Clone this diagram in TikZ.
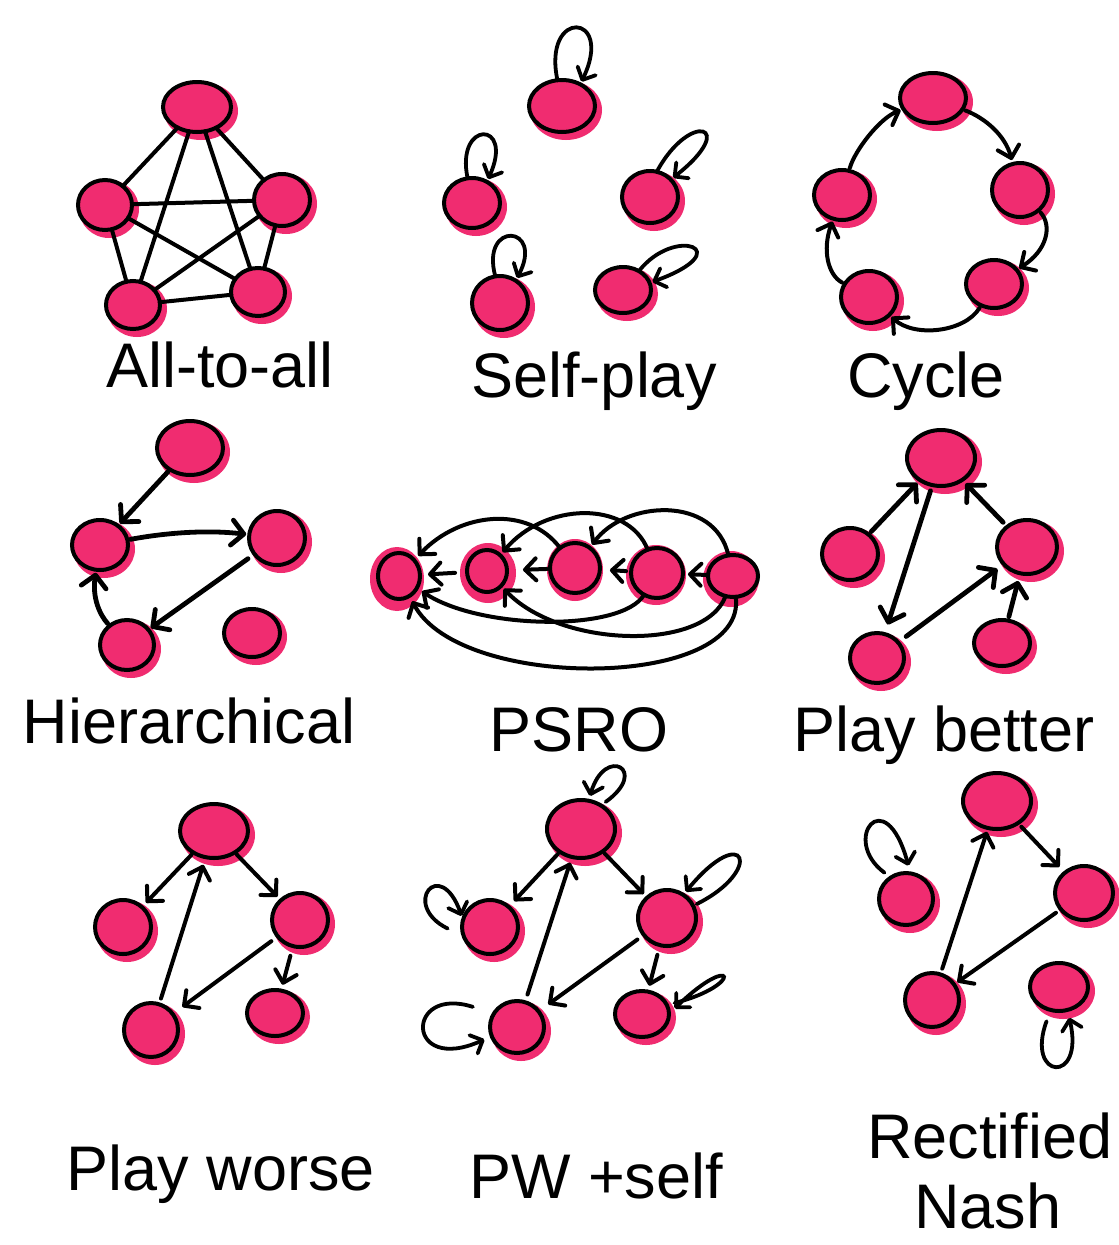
\documentclass[tikz,border=0pt]{standalone}
\usepackage{fontspec}
\setmainfont{Liberation Sans}
\usetikzlibrary{arrows.meta,shapes.geometric}
\definecolor{pinkc}{RGB}{240,44,112}
\tikzset{
  agentn/.style={ellipse, draw=black, fill=pinkc, line width=4pt, inner sep=0pt, outer sep=0pt},
  edgeln/.style={line width=4pt, line cap=round},
  arr/.style={line width=4.8pt, line cap=round, -{Straight Barb[length=12pt,width=25pt,round]}, shorten >=3pt, shorten <=3pt},
  sarr/.style={line width=4pt, line cap=round, -{Straight Barb[length=11pt,width=22pt,round]}},
  loopa/.style={line width=3.8pt, line cap=round, -{Straight Barb[length=10pt,width=20pt,round]}, shorten >=3pt},
  lbl/.style={font=\fontsize{63}{70}\selectfont, anchor=base, inner sep=0pt},
}
% name, x, y, rx, ry, blob dx, blob dy, blob rx, blob ry
\newcommand\agentfull[9]{%
  \fill[pinkc] (#2+#6,#3+#7) ellipse [x radius=#8, y radius=#9];
  \node[agentn, minimum width=2*#4pt, minimum height=2*#5pt] (#1) at (#2,#3) {};
}
\newcommand\ag[5]{\agentfull{#1}{#2}{#3}{#4}{#5}{4}{4}{#4+3}{#5+4}}
\begin{document}
\begin{tikzpicture}[x=1pt,y=-1pt]
\useasboundingbox (0,0) rectangle (1119,1245);
\clip (0,0) rectangle (1119,1245);
\fill[white] (0,0) rectangle (1119,1245);

% ---------- All-to-all ----------
\ag{A1}{197}{107}{34}{25}
\ag{A2}{105}{205}{27}{25}
\ag{A3}{282}{200}{28}{26}
\ag{A4}{133}{305}{27}{24}
\ag{A5}{258}{292}{27}{24}
\foreach \a/\b in {A1/A2,A1/A3,A1/A4,A1/A5,A2/A3,A2/A4,A2/A5,A3/A4,A3/A5,A4/A5}
  \draw[edgeln] (\a) -- (\b);
\node[lbl] (t1) at (220,387) {All-to-all};

% ---------- Self-play ----------
\ag{S1}{562}{106}{33}{26}
\ag{S2}{472}{203}{28}{25}
\ag{S3}{650}{197}{28}{26}
\ag{S4}{500}{303}{28}{27}
\ag{S5}{623}{290}{28}{23}
\draw[loopa] (S1.100) .. controls (542,8) and (615,12) .. (S1.50);
\draw[loopa] (S2.100) .. controls (455,120) and (515,120) .. (S2.55);
\draw[loopa] (S3.75) .. controls (690,110) and (740,125) .. (S3.40);
\draw[loopa] (S4.100) .. controls (480,220) and (545,225) .. (S4.55);
\draw[loopa] (S5.50) .. controls (675,225) and (740,250) .. (S5.15);
\node[lbl] (t2) at (594,397) {Self-play};

% ---------- Cycle ----------
\ag{C1}{933}{98}{33}{25}
\ag{C2}{1020}{190}{28}{27}
\ag{C3}{994}{284}{28}{24}
\ag{C4}{869}{297}{28}{26}
\ag{C5}{842}{195}{28}{25}
\draw[sarr, shorten <=3pt, shorten >=4pt] (C1) .. controls (985,118) and (1005,135) .. (C2);
\draw[sarr, shorten <=3pt, shorten >=3pt] (C2) .. controls (1052,225) and (1048,250) .. (C3);
\draw[sarr, shorten <=3pt, shorten >=3pt] (C3) .. controls (965,332) and (915,338) .. (C4);
\draw[sarr, shorten <=3pt, shorten >=3pt] (C4) .. controls (828,275) and (822,250) .. (C5);
\draw[sarr, shorten <=3pt, shorten >=3pt] (C5) .. controls (855,150) and (880,118) .. (C1);
\node[lbl] (t3) at (926,397) {Cycle};

% ---------- Hierarchical ----------
\ag{H1}{190}{448}{33}{27}
\ag{H2}{100}{545}{28}{25}
\ag{H3}{277}{538}{28}{27}
\ag{H4}{127}{645}{27}{25}
\ag{H5}{252}{633}{28}{24}
\draw[arr] (H1) -- (H2);
\draw[arr] (H2) .. controls (170,532) and (210,530) .. (H3);
\draw[arr, shorten <=8pt] (H3) -- (H4);
\draw[arr] (H4) .. controls (100,615) and (92,598) .. (H2);
\node[lbl] (t4) at (189,743) {Hierarchical};

% ---------- PSRO ----------
\agentfull{P1}{399}{576}{21}{23}{-2}{3}{27}{32}
\agentfull{P2}{487}{571}{20}{21}{1}{2}{28}{30}
\agentfull{P3}{575}{568}{25}{25}{0}{2}{28}{31}
\agentfull{P4}{657}{573}{26}{25}{-1}{2}{30}{30}
\agentfull{P5}{733}{576}{25}{21}{-2}{3}{28}{28}
\draw[sarr, shorten <=12pt, shorten >=8pt] (P2) -- (P1);
\draw[sarr, shorten <=3pt, shorten >=16pt] (P3) -- (P2);
\draw[sarr, shorten <=5pt, shorten >=10pt] (P4) -- (P3);
\draw[sarr, shorten <=1pt, shorten >=5pt] (P5) -- (P4);
\draw[sarr, shorten >=6pt] (P3) .. controls (528,505) and (460,512) .. (P1);
\draw[sarr, shorten >=4pt] (P4) .. controls (628,500) and (545,502) .. (P2);
\draw[sarr, shorten >=4pt] (P5) .. controls (715,495) and (625,500) .. (P3);
\draw[sarr, shorten >=6pt] (P4) .. controls (622,632) and (480,630) .. (P1);
\draw[sarr, shorten >=4pt] (P5) .. controls (705,652) and (560,648) .. (P2);
\draw[sarr, shorten >=6pt] (P5) .. controls (748,690) and (460,692) .. (P1);
\node[lbl] (t5) at (579,751) {PSRO};

% ---------- Play better ----------
\ag{B1}{941}{458}{34}{28}
\ag{B2}{850}{554}{28}{26}
\ag{B3}{1027}{547}{30}{27}
\ag{B4}{877}{658}{27}{25}
\ag{B5}{1002}{643}{28}{23}
\draw[arr, shorten <=4pt, shorten >=4pt] (B2) -- (B1);
\draw[arr, shorten <=6pt, shorten >=10pt] (B1) -- (B4);
\draw[arr, shorten <=6pt, shorten >=5pt] (B3) -- (B1);
\draw[arr, shorten <=10pt, shorten >=8pt] (B4) -- (B3);
\draw[arr, shorten <=4pt, shorten >=8pt] (B5) -- (B3);
\node[lbl] (t6) at (944,751) {Play better};

% ---------- Play worse ----------
\ag{W1}{214}{831}{34}{27}
\ag{W2}{123}{927}{28}{27}
\ag{W3}{300}{920}{28}{27}
\ag{W4}{151}{1030}{27}{27}
\ag{W5}{275}{1013}{28}{23}
\draw[sarr, shorten <=3pt, shorten >=6pt] (W1) -- (W2);
\draw[sarr, shorten <=3pt, shorten >=5pt] (W1) -- (W3);
\draw[sarr, shorten <=6pt, shorten >=8pt] (W4) -- (W1);
\draw[sarr, shorten <=8pt, shorten >=12pt] (W3) -- (W4);
\draw[sarr, shorten <=10pt, shorten >=6pt] (W3) -- (W5);
\node[lbl] (t7) at (221,1190) {Play worse};

% ---------- PW +self ----------
\ag{Q1}{581}{829}{34}{29}
\ag{Q2}{490}{927}{28}{27}
\ag{Q3}{667}{918}{29}{28}
\ag{Q4}{517}{1027}{27}{26}
\ag{Q5}{642}{1014}{27}{23}
\draw[sarr, shorten <=3pt, shorten >=8pt] (Q1) -- (Q2);
\draw[sarr, shorten <=3pt, shorten >=5pt] (Q1) -- (Q3);
\draw[sarr, shorten <=8pt, shorten >=6pt] (Q4) -- (Q1);
\draw[sarr, shorten <=8pt, shorten >=12pt] (Q3) -- (Q4);
\draw[sarr, shorten <=10pt, shorten >=6pt] (Q3) -- (Q5);
\draw[loopa, shorten <=6pt, shorten >=5pt] (Q1.50) .. controls (650,770) and (605,745) .. (Q1.75);
\draw[loopa, shorten <=18pt, shorten >=4pt] (Q2.200) .. controls (400,905) and (440,855) .. (Q2.165);
\draw[loopa, shorten <=4pt, shorten >=4pt] (Q3.25) .. controls (765,870) and (745,820) .. (Q3.55);
\draw[loopa, shorten <=22pt, shorten >=8pt] (Q4.150) .. controls (405,985) and (405,1075) .. (Q4.200);
\draw[loopa, shorten <=8pt, shorten >=8pt] (Q5.20) .. controls (745,985) and (735,950) .. (Q5.0);
\node[lbl] (t8) at (596,1198) {PW +self};

% ---------- Rectified Nash ----------
\ag{R1}{997}{801}{34}{28}
\ag{R2}{906}{899}{27}{26}
\ag{R3}{1084}{893}{29}{27}
\ag{R4}{932}{1000}{27}{27}
\ag{R5}{1059}{987}{29}{24}
\draw[sarr, shorten <=5pt, shorten >=8pt] (R1) -- (R3);
\draw[sarr, shorten <=6pt, shorten >=4pt] (R3) -- (R4);
\draw[sarr, shorten <=6pt, shorten >=4pt] (R4) -- (R1);
\draw[loopa, shorten <=8pt, shorten >=8pt] (R2.125) .. controls (840,840) and (885,780) .. (R2.80);
\draw[loopa, shorten <=12pt, shorten >=8pt] (R5.250) .. controls (1025,1080) and (1085,1085) .. (R5.290);
\node[lbl] (t9) at (990,1158) {Rectified};
\node[lbl] (t10) at (988,1228) {Nash};
\end{tikzpicture}
\end{document}
